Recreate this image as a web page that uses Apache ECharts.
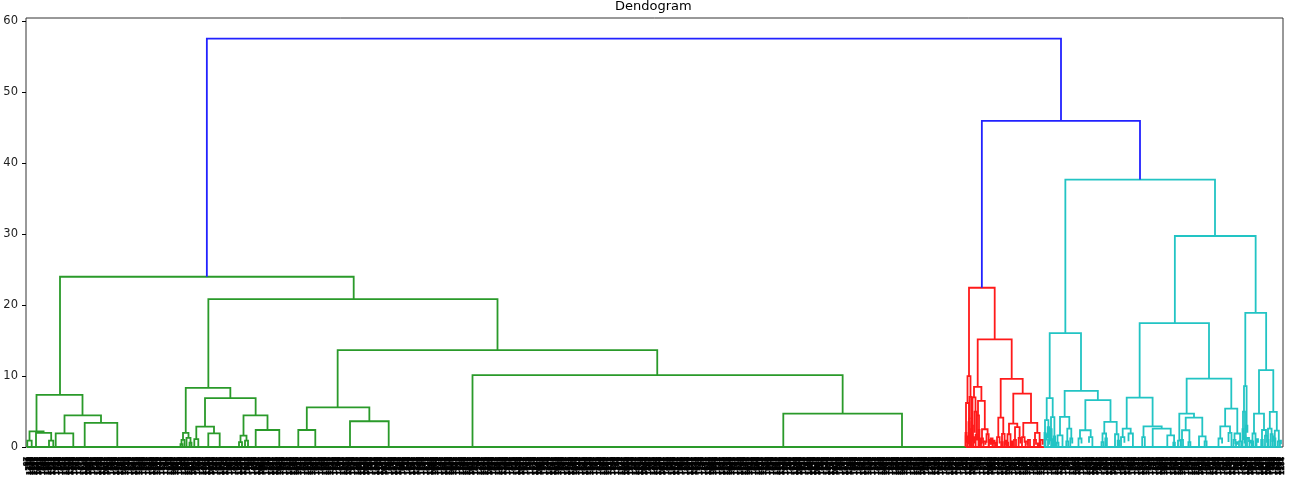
<!DOCTYPE html>
<html><head><meta charset="utf-8">
<script src="https://cdn.jsdelivr.net/npm/echarts@6.0.0/dist/echarts.min.js"></script>
<style>html,body{margin:0;padding:0;background:#fff;}#c{width:1301px;height:488px;}</style>
</head><body><div id="c"></div>
<script>
// Title and axis
const chartTitle = 'Dendogram';
const yTicks = [0, 10, 20, 30, 40, 50, 60];
const yMax = 60.48;
const xMax = 1257; // leaf-position scale (dendrogram x coordinate)

// Each link: [xLeft, xRight, heightLeftChild, mergeHeight, heightRightChild]
const blueLinks = [
  [180.85, 1035, 24.0, 57.56, 45.98],
  [955.85, 1114, 22.45, 45.98, 37.7]
];

const greenLinks = [
  [34, 327.7, 7.34, 24.0, 20.85],
  [10.5, 56.5, 2.2, 7.34, 4.47],
  [38.5, 75, 1.93, 4.47, 3.39],
  [58.7, 91.3, 0, 3.39, 0],
  [29.7, 47.3, 0, 1.93, 0],
  [3.5, 17.6, 0.9, 2.2, 2.0],
  [10, 25.2, 0, 2.0, 0.9],
  [1.3, 5.7, 0, 0.9, 0],
  [23, 27.3, 0, 0.9, 0],
  [182.35, 471.5, 8.33, 20.85, 13.65],
  [159.75, 204.35, 2.0, 8.33, 6.88],
  [179, 229.65, 2.88, 6.88, 4.47],
  [170.3, 188, 1.1, 2.88, 1.93],
  [182.3, 193.7, 0, 1.93, 0],
  [168.3, 172.3, 0, 1.1, 0],
  [217.5, 241.5, 1.6, 4.47, 2.4],
  [229.7, 253.3, 0, 2.4, 0],
  [214.5, 220.5, 0.7, 1.6, 0.9],
  [213, 216, 0, 0.7, 0],
  [219, 222, 0, 0.9, 0],
  [157, 162.5, 1.0, 2.0, 1.3],
  [155.5, 158.5, 0.4, 1.0, 0],
  [160.5, 164.5, 0, 1.3, 0.6],
  [154.5, 156.5, 0, 0.4, 0],
  [163.5, 165.5, 0, 0.6, 0],
  [311.65, 631.25, 5.6, 13.65, 10.12],
  [280.8, 343.35, 2.4, 5.6, 3.63],
  [272.3, 289.3, 0, 2.4, 0],
  [324, 362.7, 0, 3.63, 0],
  [446.5, 816.65, 0, 10.12, 4.7],
  [757.3, 876, 0, 4.7, 0],
  [1, 940.5, 0, 0, 0]
];

const redLinks = [
  [943, 968.7, 10.0, 22.45, 15.16],
  [951.7, 985.7, 8.47, 15.16, 9.6],
  [974.7, 996.7, 4.15, 9.6, 7.53],
  [987.3, 1005, 3.3, 7.53, 3.39],
  [997.3, 1011.3, 1.4, 3.39, 2.0],
  [983, 991.3, 1.8, 3.3, 2.8],
  [972.3, 977.3, 1.4, 4.15, 1.85],
  [948, 955.4, 7.0, 8.47, 6.5],
  [946.5, 949.5, 3.0, 7.0, 5.0],
  [946, 947, 0, 3.0, 1.2],
  [948.5, 950.5, 2.0, 5.0, 1.5],
  [952, 958.8, 4.47, 6.5, 2.5],
  [951, 953, 1.0, 4.47, 2.4],
  [956, 961.6, 1.2, 2.5, 1.8],
  [952.5, 953.5, 0, 2.4, 1.0],
  [955, 957, 0, 1.2, 0.5],
  [960.5, 962.7, 0.6, 1.8, 0],
  [941.5, 944.5, 6.2, 10.0, 7.06],
  [940, 943, 2.0, 6.2, 3.5],
  [943.5, 945.5, 4.0, 7.06, 2.5],
  [939.5, 940.5, 0, 2.0, 0.8],
  [942.5, 943.5, 1.2, 3.5, 0],
  [943.2, 943.8, 0.5, 4.0, 1.5],
  [945, 946, 0, 2.5, 0.8],
  [971, 973.6, 0, 1.4, 0.5],
  [976, 978.6, 0.7, 1.85, 0],
  [981.5, 984.5, 0.6, 1.8, 0],
  [989, 993.6, 1.0, 2.8, 1.3],
  [996, 998.6, 0, 1.4, 0.6],
  [1009, 1013.6, 1.0, 2.0, 0],
  [992.6, 994.6, 0, 1.3, 0.5],
  [988, 990, 0, 1.0, 0],
  [975.2, 976.8, 0, 0.7, 0],
  [980.8, 982.2, 0, 0.6, 0],
  [1008, 1010, 0, 1.0, 0.3],
  [939.8, 941.2, 0, 1.5, 0.6],
  [941.6, 942.4, 0, 1.2, 0.4],
  [944.2, 945.2, 0, 1.8, 0.7],
  [947.2, 948.6, 0, 1.4, 0.5],
  [949.6, 951.2, 0, 1.7, 0.9],
  [953.8, 955.2, 0, 1.1, 0.4],
  [957.5, 959.5, 0, 0.8, 0.3],
  [962.8, 964.6, 0, 1.0, 0.4],
  [964.8, 966.6, 0.3, 1.2, 0],
  [966.8, 968.6, 0, 0.9, 0.4],
  [969, 970.6, 0, 0.6, 0],
  [978.8, 980.4, 0, 0.9, 0.3],
  [985, 986.8, 0, 0.8, 0],
  [999.6, 1001.6, 0, 0.8, 0.3],
  [1002, 1004, 0, 1.0, 0],
  [1011.8, 1013.4, 0, 0.5, 0],
  [1014.5, 1016.8, 0, 1.0, 0.3],
  [940, 1018, 0, 0, 0]
];

const cyanLinks = [
  [1039.35, 1189, 16.05, 37.7, 29.75],
  [1023.7, 1055, 6.9, 16.05, 7.9],
  [1020.7, 1026.7, 3.8, 6.9, 4.2],
  [1019, 1022.4, 2.0, 3.8, 2.8],
  [1025, 1028.4, 2.5, 4.2, 1.5],
  [1018.5, 1019.5, 0, 2.0, 1.0],
  [1021.7, 1023.1, 1.2, 2.8, 0.5],
  [1024.3, 1025.7, 0.8, 2.5, 0],
  [1027.7, 1029.1, 0, 1.5, 0.7],
  [1019.5, 1020.5, 0, 1.8, 0.9],
  [1022, 1023, 0, 1.0, 0.3],
  [1025.2, 1026.2, 0, 0.9, 0.4],
  [1026.5, 1027.5, 0, 1.1, 0],
  [1028, 1029.5, 0, 0.6, 0],
  [1038.65, 1071.85, 4.24, 7.9, 6.6],
  [1034, 1043.3, 1.65, 4.24, 2.6],
  [1041.3, 1045.3, 0.8, 2.6, 1.2],
  [1031.5, 1036.5, 0.6, 1.65, 0],
  [1030.5, 1032.5, 0, 0.6, 0],
  [1040.3, 1042.3, 0, 0.8, 0],
  [1044.3, 1046.3, 0, 1.2, 0.5],
  [1059.35, 1084.5, 2.36, 6.6, 3.53],
  [1054, 1064.7, 1.2, 2.36, 1.4],
  [1052.5, 1055.5, 0, 1.2, 0.5],
  [1063, 1066.4, 0.6, 1.4, 0],
  [1078.3, 1090.7, 1.9, 3.53, 1.8],
  [1076.5, 1080.1, 0.7, 1.9, 1.2],
  [1089, 1092.4, 0, 1.8, 0.9],
  [1075.5, 1077.5, 0, 0.7, 0],
  [1079.3, 1080.9, 0, 1.2, 0],
  [1091.7, 1093.1, 0, 0.9, 0],
  [1148.85, 1229.65, 17.46, 29.75, 18.9],
  [1113.65, 1183, 6.97, 17.46, 9.65],
  [1100.7, 1126.6, 2.6, 6.97, 2.9],
  [1096.7, 1104.7, 1.4, 2.6, 1.9],
  [1095, 1098.4, 0, 1.4, 0.6],
  [1102.5, 1106.9, 0.8, 1.9, 0],
  [1117.5, 1135.7, 1.4, 2.9, 2.6],
  [1116.2, 1118.8, 0, 1.4, 0],
  [1126.7, 1144.7, 0, 2.6, 1.65],
  [1141.3, 1148.1, 0, 1.65, 0.6],
  [1147.3, 1148.9, 0, 0.6, 0],
  [1160.65, 1205.3, 4.7, 9.65, 5.4],
  [1153.3, 1168, 0.9, 4.7, 4.15],
  [1152, 1154.6, 0, 0.9, 0],
  [1159.7, 1176.3, 2.36, 4.15, 1.5],
  [1156, 1163.4, 1.0, 2.36, 0.7],
  [1155, 1157, 0, 1.0, 0],
  [1162.4, 1164.4, 0, 0.7, 0],
  [1173, 1179.6, 0, 1.5, 0.8],
  [1178.6, 1180.6, 0, 0.8, 0],
  [1199.15, 1211.3, 2.9, 5.4, 1.9],
  [1194.3, 1204, 1.2, 2.9, 2.0],
  [1192.5, 1196.1, 0, 1.2, 0.5],
  [1202.5, 1205.5, 0.7, 2.0, 0],
  [1208.5, 1214.1, 1.0, 1.9, 0.8],
  [1207.5, 1209.5, 0, 1.0, 0.4],
  [1213, 1215.2, 0, 0.8, 0],
  [1210, 1211.5, 0, 0.7, 0.3],
  [1219.3, 1240.15, 8.57, 18.9, 10.83],
  [1218, 1220.6, 5.0, 8.57, 3.0],
  [1217, 1219, 2.5, 5.0, 1.5],
  [1219.8, 1221.4, 1.0, 3.0, 2.0],
  [1216.5, 1217.5, 0, 2.5, 1.0],
  [1218.5, 1219.5, 0.5, 1.5, 0],
  [1221, 1223, 0, 1.3, 0.7],
  [1223.5, 1225, 0, 0.9, 0.5],
  [1233, 1247.3, 4.7, 10.83, 4.95],
  [1228, 1238, 1.9, 4.7, 2.4],
  [1226.5, 1229.5, 0.8, 1.9, 0],
  [1236, 1240, 1.0, 2.4, 1.6],
  [1225.8, 1227.2, 0, 0.8, 0],
  [1235.2, 1236.8, 0, 1.0, 0],
  [1239, 1241, 0, 1.6, 0.6],
  [1230.5, 1232, 0, 1.1, 0.6],
  [1243.8, 1250.8, 2.6, 4.95, 2.3],
  [1242, 1245.6, 1.0, 2.6, 1.8],
  [1248.8, 1252.8, 1.2, 2.3, 0.8],
  [1244.6, 1246.6, 0, 1.8, 0.7],
  [1251.8, 1253.8, 0, 0.8, 0],
  [1241.5, 1242.5, 0, 1.0, 0],
  [1248.2, 1249.4, 0, 1.2, 0],
  [1246.5, 1248, 0, 1.5, 0.8],
  [1253.5, 1255, 0, 0.9, 0.4],
  [1018.3, 1255.5, 0, 0, 0]
];

// Leaf (sample index) tick labels: illegible in the source, placeholders of similar length
const leafCount = 900;
const leafLabels = [];
for (let i = 0; i < leafCount; i++) leafLabels.push(String((i * 613 + 97) % 2000));

const chart = echarts.init(document.getElementById('c'), null, {renderer: 'canvas'});

function linkSeries(data, color) {
  return {
    type: 'custom', xAxisIndex: 0, yAxisIndex: 0, data: data,
    clip: false, silent: true, animation: false,
    encode: {x: [0, 1], y: [2, 3, 4]},
    renderItem: function (params, api) {
      const xl = api.value(0), xr = api.value(1);
      const yl = api.value(2), yt = api.value(3), yr = api.value(4);
      return {
        type: 'polyline',
        shape: {points: [api.coord([xl, yl]), api.coord([xl, yt]), api.coord([xr, yt]), api.coord([xr, yr])]},
        style: {stroke: color, lineWidth: 1.8, fill: null, lineJoin: 'miter'}
      };
    }
  };
}

chart.setOption({
  animation: false,
  backgroundColor: '#ffffff',
  title: {
    text: chartTitle, left: 615, top: 0, padding: 0,
    textStyle: {fontFamily: 'DejaVu Sans', fontSize: 13, fontWeight: 'normal', color: '#000'}
  },
  grid: {left: 26, right: 18, top: 18, bottom: 41, show: true, borderColor: '#333', borderWidth: 1, backgroundColor: 'transparent'},
  xAxis: [
    {type: 'value', min: 0, max: xMax, show: true,
     axisLine: {show: false}, axisTick: {show: false}, axisLabel: {show: false}, splitLine: {show: false}},
    {type: 'category', data: leafLabels, position: 'bottom', boundaryGap: true,
     axisLine: {show: false}, axisTick: {show: false}, splitLine: {show: false},
     axisLabel: {interval: 0, rotate: 90, fontSize: 6.5, fontWeight: 'bold', margin: 10, color: '#000',
       textBorderColor: '#000', textBorderWidth: 0.6,
       fontFamily: 'DejaVu Sans', hideOverlap: false}}
  ],
  yAxis: {
    type: 'value', min: 0, max: yMax, interval: 10,
    axisLine: {show: false}, splitLine: {show: false},
    axisTick: {show: true, length: 4, customValues: yTicks, lineStyle: {color: '#000', width: 1}},
    axisLabel: {customValues: yTicks, margin: 8, fontFamily: 'DejaVu Sans', fontSize: 11.5, color: '#222',
      formatter: function (v) { return (v % 10 === 0) ? String(v) : ''; }}
  },
  series: [
    linkSeries(greenLinks, '#2a9a2a'),
    linkSeries(redLinks, '#ff1a1a'),
    linkSeries(cyanLinks, '#22c4c4'),
    linkSeries(blueLinks, '#2222ff')
  ]
});
</script></body></html>
